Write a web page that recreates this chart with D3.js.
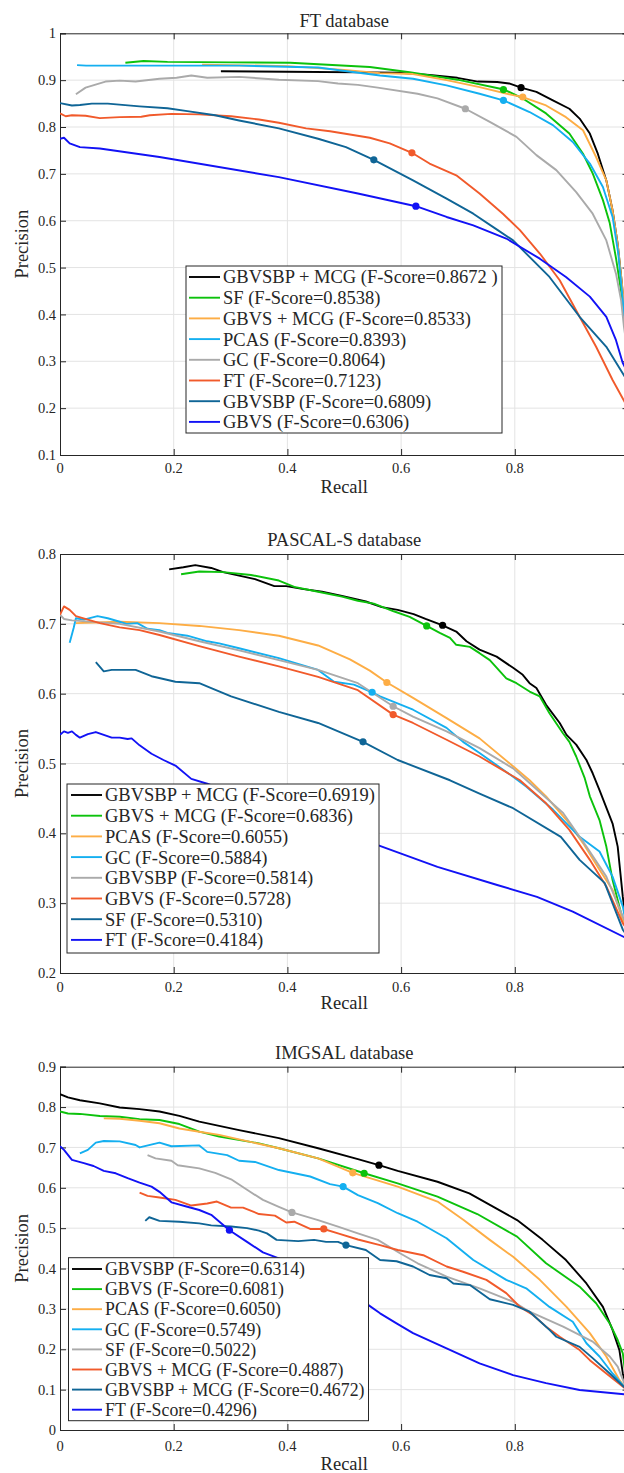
<!DOCTYPE html>
<html>
<head>
<meta charset="utf-8">
<script src="https://cdn.jsdelivr.net/npm/d3@7/dist/d3.min.js"></script>
<style>
  body { margin: 0; background: #fff; }
  svg { display: block; }
</style>
</head>
<body>
<script>
// line colours, same order in every panel
const COLORS = ['#000000', '#0cc20c', '#fdad45', '#14aff0', '#aaaaaa', '#f15a2b', '#0f6596', '#1212f5'];

// ---- FT database: [recall, precision] ----
const ftGbvsbpMcg = [[0.283,0.919],[0.40,0.918],[0.594,0.916],[0.65,0.911],[0.699,0.905],[0.735,0.897],[0.769,0.896],[0.79,0.893],[0.811,0.884],[0.838,0.875],[0.867,0.857],[0.896,0.839],[0.914,0.818],[0.932,0.786],[0.946,0.743],[0.961,0.686],[0.972,0.622],[0.981,0.55],[0.988,0.47],[0.996,0.36]];
const ftSf = [[0.115,0.937],[0.147,0.941],[0.189,0.939],[0.30,0.938],[0.405,0.937],[0.545,0.928],[0.615,0.917],[0.699,0.901],[0.781,0.880],[0.814,0.861],[0.855,0.829],[0.896,0.786],[0.92,0.743],[0.937,0.701],[0.955,0.644],[0.967,0.595],[0.978,0.52],[0.987,0.45],[0.996,0.38]];
const ftGbvsMcg = [[0.25,0.933],[0.40,0.930],[0.50,0.922],[0.563,0.915],[0.621,0.913],[0.68,0.900],[0.738,0.885],[0.797,0.868],[0.814,0.864],[0.855,0.846],[0.89,0.821],[0.92,0.793],[0.943,0.736],[0.961,0.686],[0.972,0.622],[0.981,0.55],[0.989,0.46],[0.997,0.36]];
const ftPcas = [[0.03,0.932],[0.046,0.931],[0.20,0.931],[0.315,0.931],[0.454,0.927],[0.563,0.910],[0.621,0.903],[0.68,0.889],[0.738,0.871],[0.78,0.857],[0.826,0.832],[0.867,0.804],[0.902,0.768],[0.932,0.722],[0.955,0.672],[0.972,0.608],[0.982,0.53],[0.99,0.43],[0.997,0.33]];
const ftGc = [[0.028,0.870],[0.045,0.884],[0.08,0.897],[0.105,0.899],[0.133,0.897],[0.175,0.903],[0.205,0.905],[0.231,0.910],[0.259,0.905],[0.315,0.907],[0.385,0.901],[0.454,0.898],[0.489,0.893],[0.524,0.890],[0.559,0.884],[0.629,0.871],[0.664,0.861],[0.713,0.839],[0.756,0.811],[0.803,0.779],[0.838,0.740],[0.873,0.708],[0.908,0.661],[0.937,0.615],[0.961,0.558],[0.978,0.487],[0.987,0.43],[0.992,0.374],[0.996,0.34]];
const ftFt = [[0,0.829],[0.01,0.823],[0.021,0.825],[0.045,0.824],[0.07,0.819],[0.105,0.821],[0.143,0.822],[0.158,0.825],[0.196,0.828],[0.245,0.827],[0.301,0.823],[0.35,0.816],[0.385,0.809],[0.433,0.797],[0.475,0.791],[0.51,0.784],[0.545,0.777],[0.58,0.765],[0.619,0.745],[0.65,0.722],[0.697,0.697],[0.738,0.658],[0.779,0.615],[0.809,0.58],[0.844,0.53],[0.879,0.473],[0.914,0.395],[0.943,0.331],[0.972,0.26],[0.997,0.205]];
const ftGbvsbp = [[0,0.851],[0.021,0.846],[0.035,0.847],[0.056,0.850],[0.084,0.850],[0.14,0.844],[0.189,0.840],[0.224,0.834],[0.273,0.825],[0.315,0.814],[0.385,0.797],[0.454,0.775],[0.503,0.757],[0.552,0.730],[0.621,0.686],[0.68,0.647],[0.727,0.615],[0.77,0.58],[0.797,0.558],[0.861,0.48],[0.914,0.395],[0.961,0.331],[0.99,0.274],[0.997,0.26]];
const ftGbvs = [[0,0.775],[0.007,0.777],[0.017,0.765],[0.035,0.757],[0.07,0.754],[0.175,0.736],[0.385,0.693],[0.524,0.658],[0.626,0.631],[0.68,0.608],[0.727,0.59],[0.785,0.562],[0.844,0.519],[0.89,0.48],[0.932,0.438],[0.961,0.395],[0.978,0.345],[0.99,0.296],[0.997,0.28]];
const ftMarks = [[0.811,0.884],[0.78,0.880],[0.814,0.864],[0.78,0.857],[0.713,0.839],[0.619,0.745],[0.552,0.730],[0.626,0.631]];
const ftNames = ['GBVSBP + MCG (F-Score=0.8672 )', 'SF (F-Score=0.8538)', 'GBVS + MCG (F-Score=0.8533)', 'PCAS (F-Score=0.8393)',
  'GC (F-Score=0.8064)', 'FT (F-Score=0.7123)', 'GBVSBP (F-Score=0.6809)', 'GBVS (F-Score=0.6306)'];

// ---- PASCAL-S database ----
const psGbvsbpMcg = [[0.192,0.778],[0.217,0.781],[0.238,0.784],[0.266,0.780],[0.287,0.774],[0.315,0.769],[0.343,0.764],[0.377,0.754],[0.398,0.754],[0.426,0.750],[0.461,0.746],[0.496,0.740],[0.538,0.732],[0.566,0.724],[0.594,0.720],[0.622,0.714],[0.643,0.707],[0.672,0.698],[0.697,0.689],[0.715,0.675],[0.738,0.663],[0.768,0.653],[0.797,0.637],[0.814,0.627],[0.826,0.615],[0.838,0.608],[0.855,0.584],[0.879,0.558],[0.891,0.541],[0.908,0.527],[0.926,0.505],[0.937,0.486],[0.949,0.462],[0.972,0.414],[0.981,0.381],[0.99,0.309],[0.996,0.27]];
const psGbvsMcg = [[0.213,0.771],[0.245,0.775],[0.287,0.774],[0.336,0.770],[0.385,0.762],[0.412,0.753],[0.454,0.746],[0.496,0.739],[0.524,0.733],[0.552,0.729],[0.587,0.718],[0.615,0.710],[0.645,0.697],[0.668,0.687],[0.686,0.680],[0.697,0.670],[0.721,0.667],[0.738,0.658],[0.756,0.648],[0.785,0.622],[0.803,0.615],[0.826,0.603],[0.844,0.596],[0.861,0.572],[0.885,0.543],[0.896,0.531],[0.908,0.51],[0.923,0.479],[0.932,0.453],[0.949,0.419],[0.961,0.381],[0.972,0.333],[0.99,0.276],[0.996,0.265]];
const psPcas = [[0.028,0.701],[0.105,0.703],[0.175,0.701],[0.245,0.697],[0.315,0.691],[0.385,0.683],[0.454,0.669],[0.51,0.649],[0.545,0.633],[0.575,0.616],[0.621,0.594],[0.68,0.565],[0.738,0.536],[0.797,0.496],[0.826,0.476],[0.855,0.453],[0.891,0.419],[0.92,0.386],[0.949,0.348],[0.972,0.319],[0.99,0.276],[0.996,0.265]];
const psGc = [[0.017,0.673],[0.024,0.694],[0.028,0.708],[0.042,0.706],[0.066,0.711],[0.084,0.708],[0.105,0.703],[0.117,0.700],[0.136,0.701],[0.154,0.693],[0.175,0.691],[0.189,0.687],[0.224,0.683],[0.259,0.675],[0.28,0.672],[0.315,0.665],[0.385,0.651],[0.454,0.634],[0.482,0.617],[0.517,0.613],[0.549,0.602],[0.563,0.596],[0.621,0.577],[0.68,0.551],[0.709,0.531],[0.738,0.515],[0.797,0.481],[0.82,0.467],[0.867,0.434],[0.914,0.395],[0.949,0.374],[0.972,0.338],[0.99,0.295],[0.996,0.27]];
const psGbvsbp = [[0,0.713],[0.007,0.707],[0.021,0.705],[0.105,0.700],[0.175,0.689],[0.245,0.675],[0.315,0.662],[0.385,0.648],[0.454,0.634],[0.524,0.615],[0.586,0.582],[0.621,0.567],[0.68,0.546],[0.738,0.522],[0.797,0.493],[0.826,0.472],[0.885,0.429],[0.926,0.381],[0.961,0.338],[0.99,0.281],[0.996,0.27]];
const psGbvs = [[0,0.713],[0.007,0.725],[0.017,0.720],[0.028,0.711],[0.049,0.706],[0.07,0.701],[0.105,0.695],[0.14,0.691],[0.175,0.684],[0.245,0.668],[0.315,0.653],[0.385,0.639],[0.454,0.624],[0.524,0.605],[0.586,0.570],[0.621,0.558],[0.68,0.534],[0.738,0.51],[0.809,0.476],[0.855,0.443],[0.896,0.405],[0.932,0.362],[0.961,0.324],[0.99,0.271],[0.996,0.265]];
const psSf = [[0.063,0.645],[0.077,0.632],[0.091,0.634],[0.133,0.634],[0.161,0.625],[0.203,0.617],[0.245,0.615],[0.266,0.608],[0.301,0.596],[0.385,0.574],[0.454,0.558],[0.533,0.531],[0.594,0.505],[0.686,0.476],[0.738,0.457],[0.797,0.436],[0.881,0.395],[0.914,0.362],[0.958,0.329],[0.99,0.262],[0.996,0.255]];
const psFt = [[0,0.541],[0.007,0.546],[0.014,0.544],[0.021,0.546],[0.028,0.541],[0.035,0.537],[0.049,0.542],[0.063,0.545],[0.077,0.541],[0.091,0.537],[0.105,0.537],[0.119,0.535],[0.126,0.536],[0.14,0.526],[0.161,0.514],[0.182,0.505],[0.203,0.497],[0.231,0.478],[0.259,0.471],[0.30,0.458],[0.40,0.425],[0.50,0.398],[0.559,0.383],[0.664,0.352],[0.769,0.326],[0.839,0.309],[0.902,0.288],[0.996,0.25]];
const psMarks = [[0.673,0.698],[0.645,0.697],[0.575,0.616],[0.549,0.602],[0.586,0.582],[0.586,0.570],[0.533,0.531],[0.45,0.41]];
const psNames = ['GBVSBP + MCG (F-Score=0.6919)', 'GBVS + MCG (F-Score=0.6836)', 'PCAS (F-Score=0.6055)', 'GC (F-Score=0.5884)',
  'GBVSBP (F-Score=0.5814)', 'GBVS (F-Score=0.5728)', 'SF (F-Score=0.5310)', 'FT (F-Score=0.4184)'];

// ---- IMGSAL database ----
const imGbvsbp = [[0,0.832],[0.014,0.824],[0.035,0.817],[0.07,0.809],[0.105,0.799],[0.14,0.795],[0.175,0.789],[0.21,0.778],[0.245,0.764],[0.315,0.743],[0.385,0.723],[0.454,0.698],[0.524,0.671],[0.561,0.656],[0.594,0.642],[0.664,0.615],[0.72,0.586],[0.804,0.52],[0.849,0.471],[0.89,0.421],[0.926,0.363],[0.955,0.305],[0.972,0.248],[0.984,0.198],[0.99,0.14],[0.997,0.1]];
const imGbvs = [[0,0.789],[0.014,0.784],[0.035,0.783],[0.07,0.778],[0.105,0.776],[0.14,0.770],[0.175,0.768],[0.21,0.758],[0.245,0.739],[0.28,0.727],[0.35,0.710],[0.385,0.698],[0.454,0.673],[0.535,0.636],[0.594,0.611],[0.664,0.578],[0.734,0.535],[0.804,0.479],[0.855,0.413],[0.914,0.355],[0.943,0.314],[0.967,0.264],[0.981,0.223],[0.99,0.19],[0.997,0.11]];
const imPcas = [[0.077,0.772],[0.105,0.771],[0.14,0.766],[0.175,0.760],[0.21,0.747],[0.245,0.739],[0.28,0.731],[0.315,0.720],[0.385,0.698],[0.454,0.673],[0.515,0.637],[0.594,0.603],[0.664,0.566],[0.71,0.52],[0.756,0.471],[0.797,0.429],[0.844,0.372],[0.891,0.305],[0.932,0.24],[0.961,0.182],[0.984,0.124],[0.997,0.1]];
const imGc = [[0.035,0.685],[0.049,0.694],[0.063,0.712],[0.077,0.716],[0.105,0.715],[0.133,0.706],[0.14,0.700],[0.175,0.712],[0.196,0.703],[0.245,0.705],[0.259,0.689],[0.294,0.681],[0.315,0.667],[0.343,0.664],[0.385,0.644],[0.44,0.628],[0.475,0.609],[0.498,0.603],[0.524,0.582],[0.559,0.562],[0.594,0.537],[0.629,0.516],[0.68,0.475],[0.727,0.421],[0.785,0.372],[0.82,0.351],[0.861,0.305],[0.902,0.268],[0.926,0.215],[0.949,0.182],[0.972,0.14],[0.997,0.1]];
const imSf = [[0.154,0.681],[0.168,0.673],[0.196,0.667],[0.207,0.656],[0.245,0.648],[0.273,0.637],[0.301,0.621],[0.329,0.595],[0.357,0.570],[0.385,0.553],[0.408,0.539],[0.454,0.520],[0.489,0.504],[0.524,0.487],[0.559,0.471],[0.598,0.438],[0.629,0.413],[0.68,0.38],[0.738,0.351],[0.797,0.318],[0.826,0.293],[0.885,0.256],[0.937,0.219],[0.967,0.182],[0.981,0.157],[0.997,0.1]];
const imGbvsMcg = [[0.14,0.588],[0.154,0.580],[0.175,0.576],[0.203,0.570],[0.231,0.556],[0.259,0.561],[0.276,0.566],[0.301,0.551],[0.322,0.551],[0.35,0.535],[0.378,0.531],[0.398,0.514],[0.412,0.516],[0.44,0.498],[0.464,0.498],[0.489,0.487],[0.524,0.472],[0.563,0.458],[0.594,0.446],[0.639,0.433],[0.68,0.405],[0.709,0.392],[0.75,0.372],[0.785,0.339],[0.809,0.305],[0.832,0.285],[0.855,0.256],[0.879,0.231],[0.914,0.198],[0.932,0.173],[0.961,0.14],[0.997,0.1]];
const imGbvsbpMcg = [[0.15,0.518],[0.157,0.527],[0.175,0.518],[0.21,0.516],[0.245,0.512],[0.266,0.507],[0.301,0.504],[0.329,0.500],[0.35,0.494],[0.364,0.487],[0.381,0.471],[0.419,0.468],[0.447,0.471],[0.468,0.466],[0.489,0.466],[0.503,0.458],[0.538,0.446],[0.563,0.421],[0.592,0.418],[0.621,0.405],[0.65,0.384],[0.68,0.376],[0.692,0.363],[0.721,0.359],[0.756,0.324],[0.797,0.31],[0.826,0.293],[0.861,0.248],[0.873,0.231],[0.914,0.206],[0.937,0.178],[0.967,0.14],[0.997,0.1]];
const imFt = [[0,0.703],[0.007,0.694],[0.021,0.669],[0.042,0.661],[0.059,0.654],[0.077,0.642],[0.098,0.636],[0.119,0.624],[0.14,0.613],[0.161,0.603],[0.175,0.59],[0.196,0.564],[0.224,0.553],[0.245,0.545],[0.266,0.533],[0.298,0.495],[0.329,0.466],[0.357,0.44],[0.385,0.425],[0.45,0.38],[0.50,0.345],[0.542,0.31],[0.563,0.289],[0.592,0.264],[0.621,0.24],[0.68,0.202],[0.738,0.165],[0.797,0.136],[0.855,0.116],[0.914,0.099],[0.997,0.088]];
const imMarks = [[0.561,0.656],[0.535,0.636],[0.515,0.637],[0.498,0.603],[0.408,0.539],[0.464,0.498],[0.503,0.458],[0.298,0.495]];
const imNames = ['GBVSBP (F-Score=0.6314)', 'GBVS (F-Score=0.6081)', 'PCAS (F-Score=0.6050)', 'GC (F-Score=0.5749)',
  'SF (F-Score=0.5022)', 'GBVS + MCG (F-Score=0.4887)', 'GBVSBP + MCG (F-Score=0.4672)', 'FT (F-Score=0.4296)'];

const xTicks = [0, 0.2, 0.4, 0.6, 0.8];

const W = 624, H = 1473;
const X0 = 60, X1 = 628.5;
const FONT = 'Liberation Serif';
const TEXT_SIZE = 18.5, TICK_SIZE = 14.5;

const panels = [
  { title: 'FT database', top: 33.3, bottom: 455, yDomain: [0.1, 1], yTicks: d3.range(1, 11).map(i => i / 10),
    curves: [ftGbvsbpMcg, ftSf, ftGbvsMcg, ftPcas, ftGc, ftFt, ftGbvsbp, ftGbvs], marks: ftMarks, names: ftNames,
    tickOff: 13, labelOff: 32, titleOff: 13,
    legend: { x: 186, y: 266, w: 316, h: 167, row0: 277, dy: 20.7, l0: 189, l1: 220, tx: 223, size: 18.5 } },
  { title: 'PASCAL-S database', top: 554, bottom: 973, yDomain: [0.2, 0.8], yTicks: d3.range(2, 9).map(i => i / 10),
    curves: [psGbvsbpMcg, psGbvsMcg, psPcas, psGc, psGbvsbp, psGbvs, psSf, psFt], marks: psMarks, names: psNames,
    tickOff: 14, labelOff: 30, titleOff: 14,
    legend: { x: 67, y: 784, w: 312, h: 169, row0: 795, dy: 20.7, l0: 71, l1: 102, tx: 105, size: 18.5 } },
  { title: 'IMGSAL database', top: 1066.7, bottom: 1430, yDomain: [0, 0.9], yTicks: d3.range(0, 10).map(i => i / 10),
    curves: [imGbvsbp, imGbvs, imPcas, imGc, imSf, imGbvsMcg, imGbvsbpMcg, imFt], marks: imMarks, names: imNames,
    tickOff: 16, labelOff: 34, titleOff: 14.5,
    legend: { x: 68.5, y: 1257.7, w: 300, h: 163, row0: 1269, dy: 20.1, l0: 72, l1: 102, tx: 105, size: 17.8 } }
];

const svg = d3.select('body').append('svg')
  .attr('width', W)
  .attr('height', H)
  .attr('font-family', FONT);

const fmt = v => (v === 0 || v === 1) ? String(v) : d3.format('.1f')(v);

panels.forEach((p, pi) => {
  const x = d3.scaleLinear().domain([0, 1]).range([X0, X1]);
  const y = d3.scaleLinear().domain(p.yDomain).range([p.bottom, p.top]);
  const g = svg.append('g');

  const clipId = 'clip' + pi;
  svg.append('clipPath').attr('id', clipId)
    .append('rect').attr('x', X0).attr('y', p.top).attr('width', X1 - X0).attr('height', p.bottom - p.top);

  // grid
  g.append('g').selectAll('line').data(xTicks.slice(1)).enter().append('line')
    .attr('x1', d => x(d)).attr('x2', d => x(d)).attr('y1', p.top).attr('y2', p.bottom)
    .attr('stroke', '#e3e3e3').attr('stroke-width', 1);
  g.append('g').selectAll('line').data(p.yTicks.slice(1, -1)).enter().append('line')
    .attr('x1', X0).attr('x2', X1).attr('y1', d => y(d)).attr('y2', d => y(d))
    .attr('stroke', '#e3e3e3').attr('stroke-width', 1);

  // axes box, ticks pointing inward
  const axL = d3.axisLeft(y).tickValues(p.yTicks).tickSize(-6).tickFormat('');
  const axR = d3.axisRight(y).tickValues(p.yTicks).tickSize(-6).tickFormat('');
  const axB = d3.axisBottom(x).tickValues(xTicks).tickSize(-6).tickFormat('');
  const axT = d3.axisTop(x).tickValues(xTicks).tickSize(-6).tickFormat('');
  [[axL, `translate(${X0},0)`], [axR, `translate(${X1},0)`], [axB, `translate(0,${p.bottom})`], [axT, `translate(0,${p.top})`]]
    .forEach(([ax, tr]) => {
      const a = g.append('g').attr('transform', tr).call(ax);
      a.selectAll('path,line').attr('stroke', '#262626').attr('stroke-width', 1);
    });

  // tick labels
  g.append('g').selectAll('text').data(p.yTicks).enter().append('text')
    .attr('x', X0 - 4).attr('y', d => y(d)).attr('dy', '0.35em')
    .attr('text-anchor', 'end').attr('font-size', TICK_SIZE).attr('fill', '#262626').text(fmt);
  g.append('g').selectAll('text').data(xTicks).enter().append('text')
    .attr('x', d => x(d)).attr('y', p.bottom + p.tickOff).attr('dy', '0.35em')
    .attr('text-anchor', 'middle').attr('font-size', TICK_SIZE).attr('fill', '#262626').text(fmt);

  // titles
  g.append('text').attr('x', (X0 + X1) / 2).attr('y', p.top - p.titleOff).attr('dy', '0.35em')
    .attr('text-anchor', 'middle').attr('font-size', TEXT_SIZE).attr('fill', '#262626').text(p.title);
  g.append('text').attr('x', (X0 + X1) / 2).attr('y', p.bottom + p.labelOff).attr('dy', '0.35em')
    .attr('text-anchor', 'middle').attr('font-size', TEXT_SIZE).attr('fill', '#262626').text('Recall');
  g.append('text').attr('transform', `translate(22,${(p.top + p.bottom) / 2}) rotate(-90)`).attr('dy', '0.35em')
    .attr('text-anchor', 'middle').attr('font-size', TEXT_SIZE).attr('fill', '#262626').text('Precision');

  // curves
  const line = d3.line().x(d => x(d[0])).y(d => y(d[1]));
  const plot = g.append('g').attr('clip-path', `url(#${clipId})`);
  p.curves.forEach((c, i) => {
    plot.append('path').datum(c)
      .attr('d', line)
      .attr('fill', 'none')
      .attr('stroke', COLORS[i])
      .attr('stroke-width', 1.9)
      .attr('stroke-linejoin', 'round');
  });
  plot.selectAll('circle').data(p.marks).enter().append('circle')
    .attr('cx', d => x(d[0])).attr('cy', d => y(d[1])).attr('r', 3.6)
    .attr('fill', (d, i) => COLORS[i]);

  // legend
  const L = p.legend;
  const leg = g.append('g');
  leg.append('rect').attr('x', L.x).attr('y', L.y).attr('width', L.w).attr('height', L.h)
    .attr('fill', '#fff').attr('stroke', '#262626').attr('stroke-width', 1);
  const row = leg.selectAll('g.row').data(p.names).enter().append('g').attr('class', 'row')
    .attr('transform', (d, i) => `translate(0,${L.row0 + i * L.dy})`);
  row.append('line').attr('x1', L.l0).attr('x2', L.l1)
    .attr('stroke', (d, i) => COLORS[i]).attr('stroke-width', 1.9);
  row.append('text').attr('x', L.tx).attr('dy', '0.35em')
    .attr('font-size', L.size).attr('fill', '#262626').text(d => d);
});
</script>
</body>
</html>
